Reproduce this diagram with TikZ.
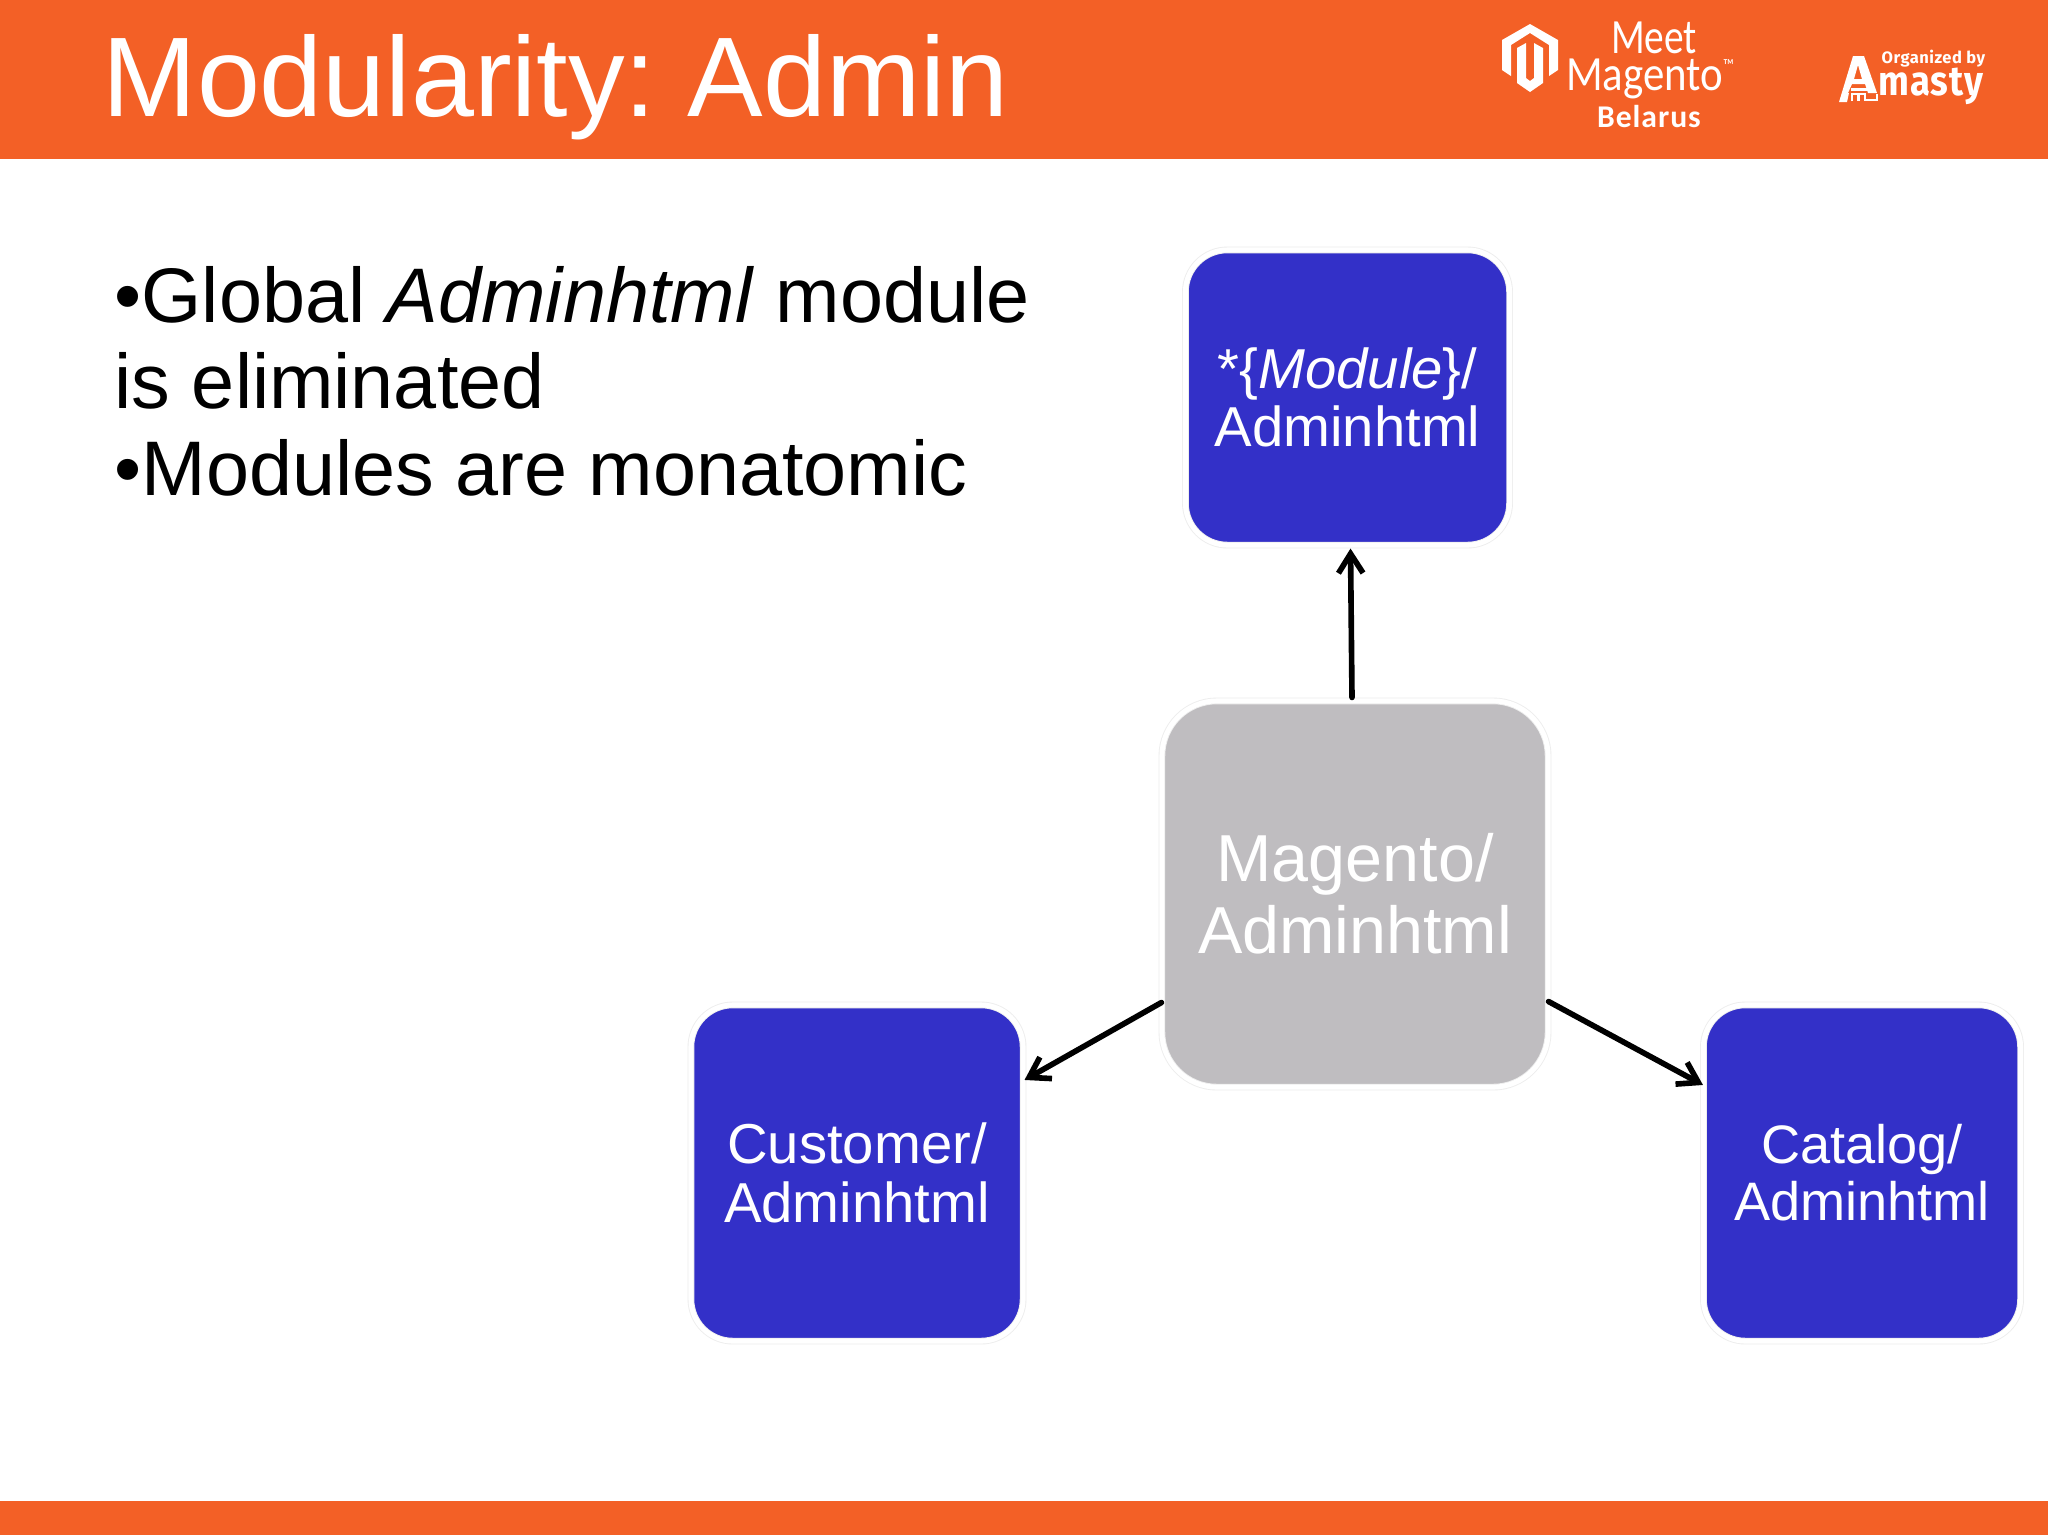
\documentclass[tikz,border=0pt]{standalone}
\usepackage{fontspec}
\setmainfont{Liberation Sans}
\newfontfamily\logofont[FakeStretch=0.8]{Carlito}
\newfontfamily\magentofont[FakeStretch=0.87]{Carlito}
\newfontfamily\belarusfont[LetterSpace=3]{Carlito}
\newfontfamily\amastyfont[LetterSpace=3]{Fira Sans}
\newfontfamily\mastyfont[FakeStretch=0.88,LetterSpace=2]{Fira Sans}
\usetikzlibrary{arrows.meta}
\definecolor{slideorange}{HTML}{F36026}
\definecolor{moduleblue}{HTML}{3330C8}
\definecolor{coregray}{HTML}{BFBDC0}
\tikzset{
  modulebox/.style={draw=black!7, line width=.25pt, double=white, double distance=1.4pt,
    fill=moduleblue, text=white, align=center, inner sep=0pt, rounded corners=.42cm,
    font=\fontsize{16}{16.7}\selectfont},
  corebox/.style={modulebox, fill=coregray, rounded corners=.55cm,
    font=\fontsize{18.9}{20.4}\selectfont},
  logotext/.style={text=white, inner sep=0pt, anchor=base},
  link/.style={->, >={Straight Barb[length=5.5pt,width=7pt]}, line width=1.6pt, line cap=round},
}
\begin{document}
\begin{tikzpicture}[x=.01cm, y=-.01cm]
  \useasboundingbox (0,0) rectangle (2048,1535);
  \fill[white] (0,0) rectangle (2048,1535);
  \fill[slideorange] (0,0) rectangle (2048,159);
  \fill[slideorange] (0,1501) rectangle (2048,1535);
  \node[text=white, inner sep=0pt, anchor=base west, font=\fontsize{32.2}{32.2}\selectfont\frenchspacing] (title) at (102,116) {Modularity: Admin};

  % logos
  \fill[white] (1530,24) -- (1558,40) -- (1558,70) -- (1549,76) -- (1549,45) -- (1530,33)
    -- (1511,45) -- (1511,76) -- (1502,70) -- (1502,40) -- cycle;
  \fill[white] (1517,48) -- (1526,43) -- (1526,78) -- (1530,81) -- (1534,78) -- (1534,43)
    -- (1543,48) -- (1543,83) -- (1530,92) -- (1517,83) -- cycle;
  \node[logotext, font=\logofont\fontsize{14}{14}\selectfont] (meet) at (1654,53) {Meet};
  \node[logotext, font=\magentofont\fontsize{14}{14}\selectfont] (magento) at (1651,90) {Magento\textsuperscript{\tiny ™}};
  \node[logotext, font=\belarusfont\bfseries\fontsize{9}{9}\selectfont] (belarus) at (1649,127) {Belarus};
  \fill[white, even odd rule] (1853,56) -- (1864,56) -- (1877,93) -- (1868,93) -- (1865,84) -- (1852,84)
    -- (1848,93) -- (1849,93) -- (1847,102) -- (1839,102) -- cycle
    (1858,65) -- (1862,79) -- (1854,79) -- cycle;
  \fill[white] (1851,88) -- (1873,88) -- (1873,91) -- (1851,91) -- cycle;
  \draw[white, line width=.7pt] (1852,101) -- (1852,94) -- (1865,94) -- (1865,101) (1858.5,94) -- (1858.5,101)
    (1865,100) -- (1877,100) -- (1877,94);
  \node[logotext, anchor=base west, font=\amastyfont\bfseries\fontsize{4.7}{4.7}\selectfont] (organized) at (1881,63) {Organized by};
  \node[logotext, anchor=base west, font=\mastyfont\bfseries\fontsize{11.8}{11.8}\selectfont] (masty) at (1878,95) {masty};

  % bullets
  \node[anchor=north west, inner sep=0pt, text width=10cm, align=flush left,
    font=\fontsize{22}{24.5}\selectfont\frenchspacing] (points) at (114,266)
    {•Global \textit{Adminhtml} module\\is eliminated\\•Modules are monatomic};

  % boxes
  \node[corebox, minimum width=3.86cm, minimum height=3.86cm] (core) at (1355,894) {Magento/\\Adminhtml};
  \node[modulebox, minimum width=3.24cm, minimum height=2.95cm] (wildcard) at (1347.5,397.5) {*\{\textit{Module}\}/\\Adminhtml};
  \node[modulebox, minimum width=3.32cm, minimum height=3.36cm] (customer) at (857,1173) {Customer/\\Adminhtml};
  \node[modulebox, minimum width=3.17cm, minimum height=3.36cm, font=\fontsize{15.4}{16.2}\selectfont] (catalog) at (1862,1173) {Catalog/\\Adminhtml};

  % arrows
  \draw[link] ([xshift=-.03cm,yshift=.03cm]core.north) -- ([xshift=.03cm,yshift=-.03cm]wildcard.south);
  \draw[link] ([xshift=0cm,yshift=.85cm]core.south west) -- ([xshift=.01cm,yshift=.93cm]customer.east);
  \draw[link] ([xshift=0cm,yshift=.86cm]core.south east) -- ([xshift=0cm,yshift=.88cm]catalog.west);
\end{tikzpicture}
\end{document}
